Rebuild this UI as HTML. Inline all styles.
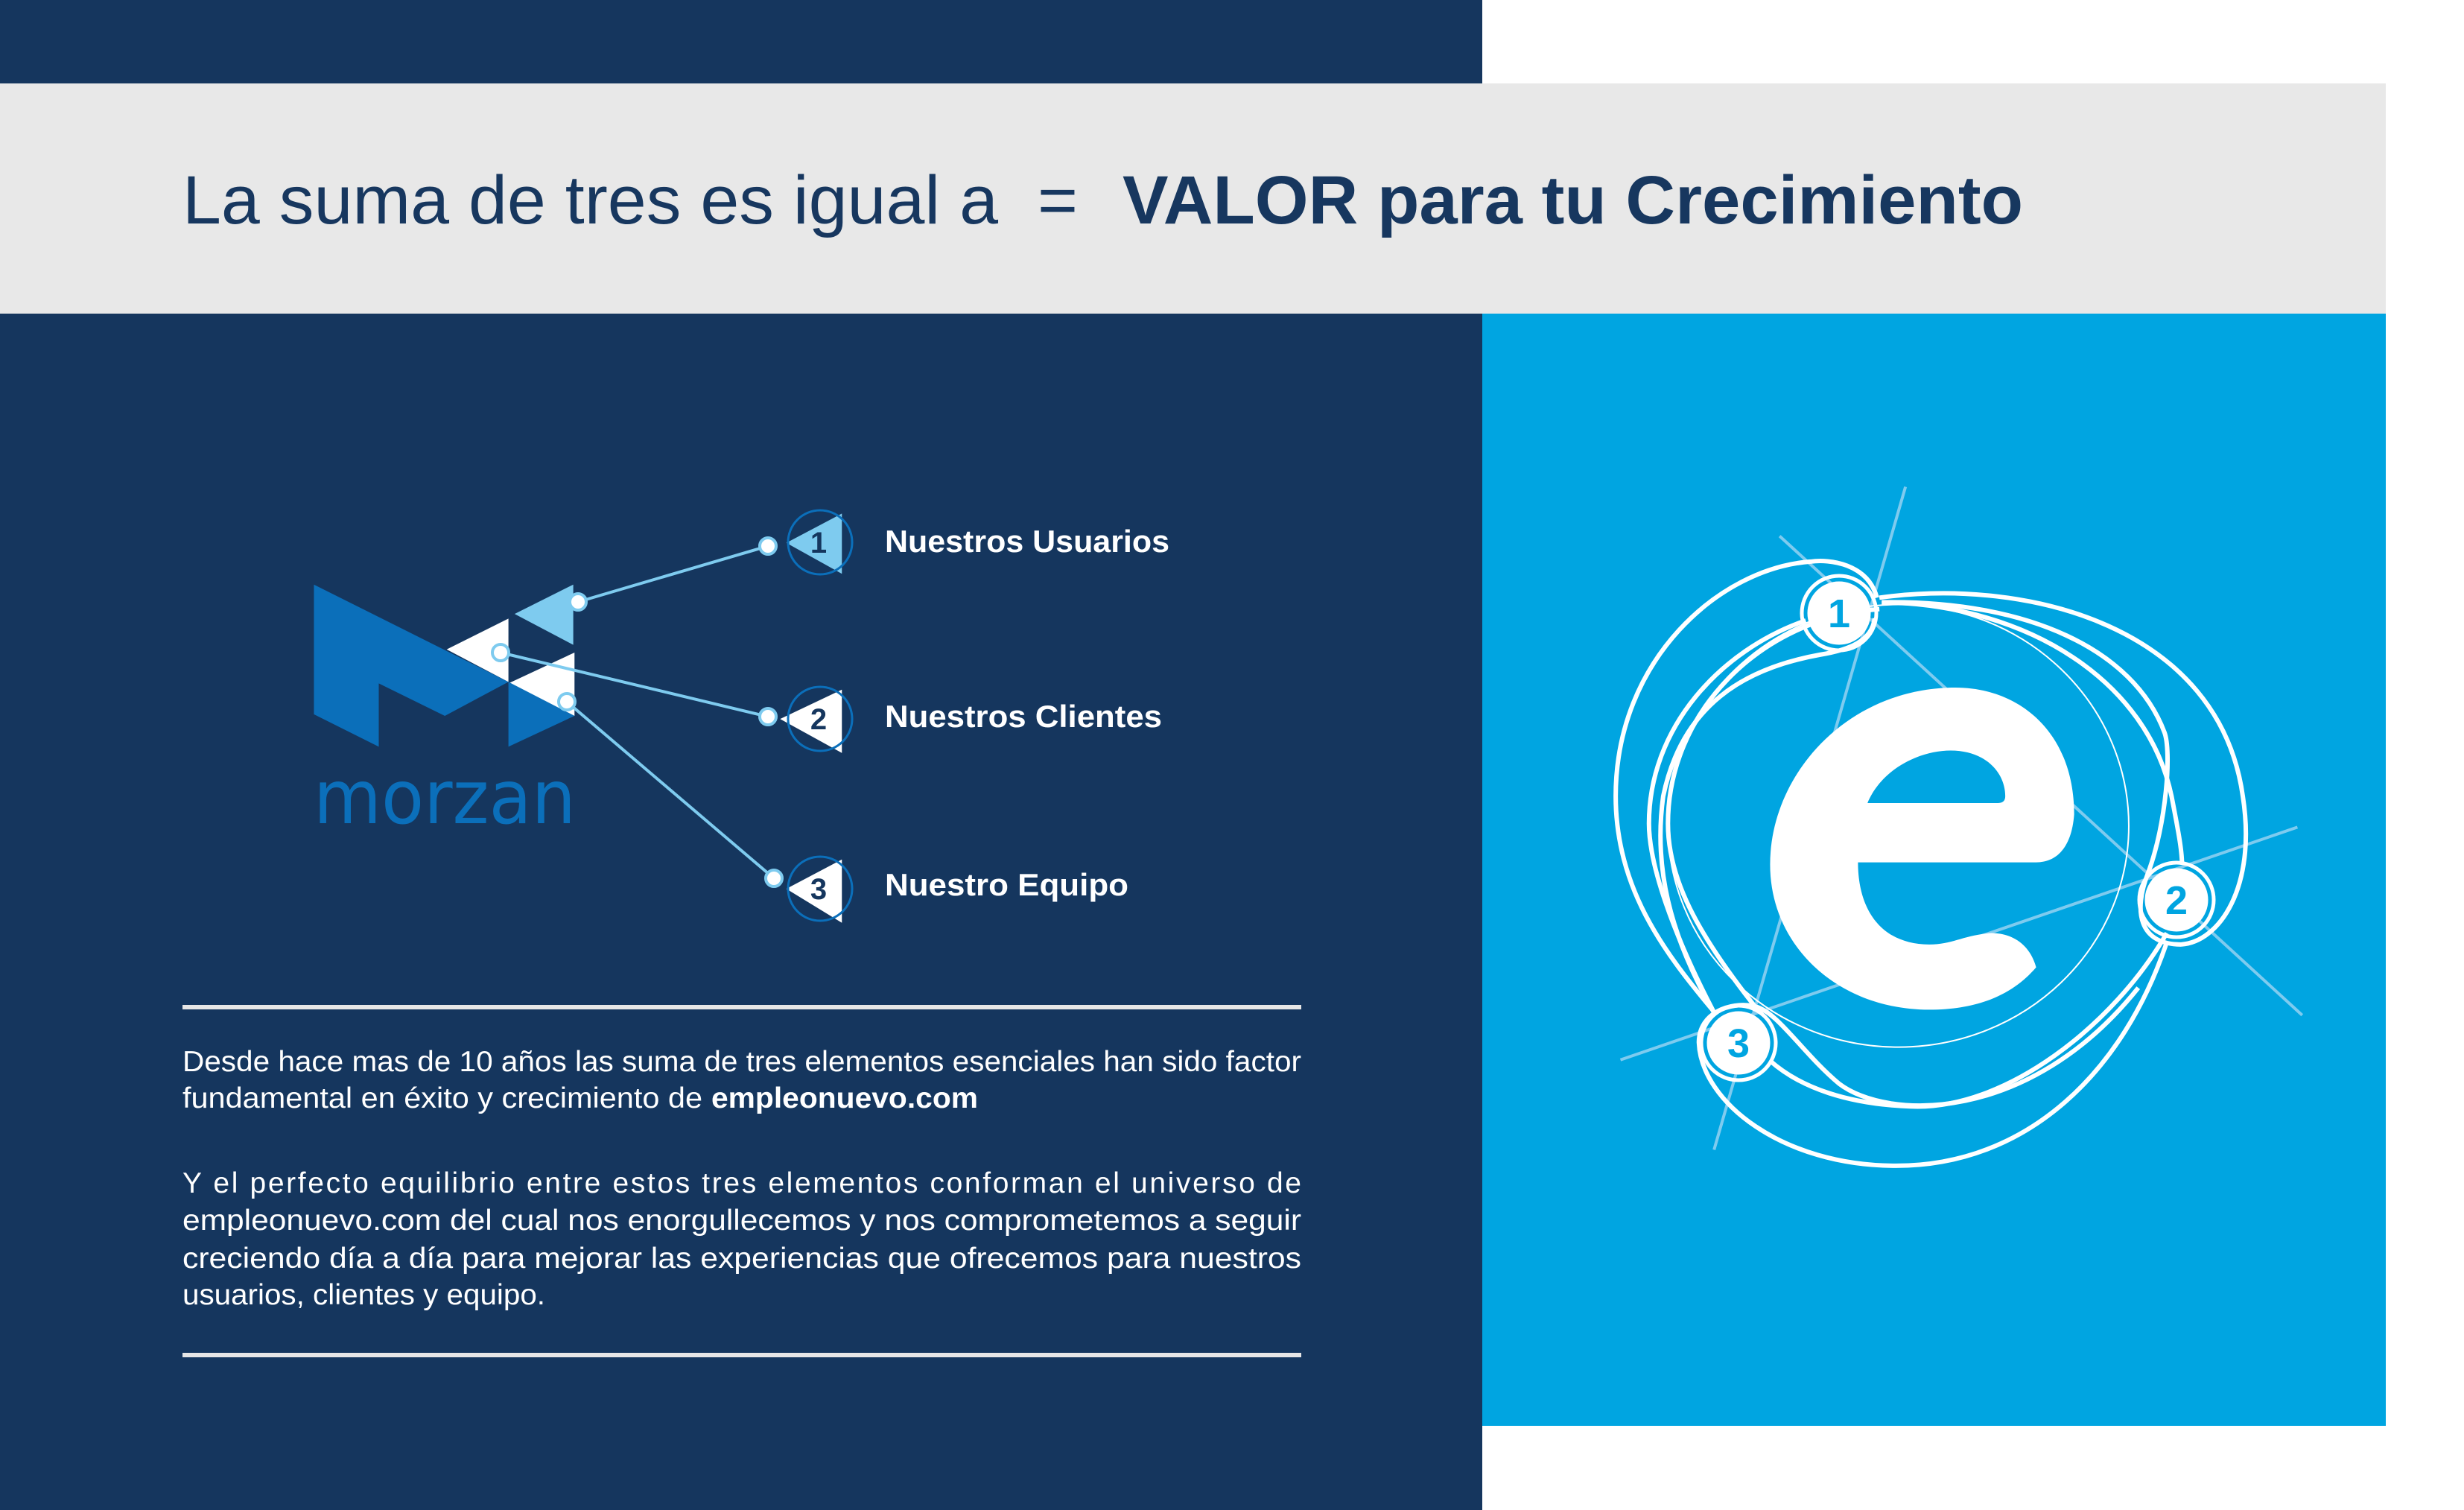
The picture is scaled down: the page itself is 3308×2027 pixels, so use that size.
<!DOCTYPE html>
<html><head><meta charset="utf-8"><style>
html,body{margin:0;padding:0;background:#fff}
svg{display:block}
</style></head><body>
<svg width="3308" height="2027" viewBox="0 0 3308 2027" xmlns="http://www.w3.org/2000/svg">
<rect x="0" y="0" width="3308" height="2027" fill="#ffffff"/>
<rect x="0" y="0" width="1990" height="2027" fill="#15365e"/>
<rect x="0" y="112" width="3203" height="309" fill="#e8e8e8"/>
<rect x="1990" y="421" width="1213" height="1493" fill="#00a5e1"/>

<!-- title -->
<text x="245" y="300" font-family="Liberation Sans, sans-serif" font-size="92" fill="#17375f" textLength="1095" lengthAdjust="spacingAndGlyphs">La suma de tres es igual a</text>
<text x="1393" y="300" font-family="Liberation Sans, sans-serif" font-size="92" fill="#17375f" textLength="54" lengthAdjust="spacingAndGlyphs">=</text>
<text x="1507" y="300" font-family="Liberation Sans, sans-serif" font-weight="bold" font-size="92" fill="#17375f" textLength="1209" lengthAdjust="spacingAndGlyphs">VALOR para tu Crecimiento</text>

<!-- morzan logo (zoom coords) -->
<g transform="translate(380,650) scale(0.829,0.4146)">
  <polygon points="50,325 365,640 262,750 155,645 155,850 50,745" fill="#0b6fba"/>
  <polygon points="265,535 365,435 365,640" fill="#ffffff"/>
  <polygon points="365,645 472,545 472,750" fill="#ffffff"/>
  <polygon points="365,640 472,750 365,850" fill="#0b6fba"/>
  <polygon points="375,420 470,325 470,520" fill="#7ecbef"/>
  <polygon points="815,190 905,95 905,290" fill="#7ecbef"/>
  <polygon points="805,760 905,665 905,870" fill="#ffffff"/>
  <polygon points="815,1310 905,1215 905,1420" fill="#ffffff"/>
</g>
<g fill="none" stroke="#0b6fba" stroke-width="3">
  <circle cx="1101" cy="728" r="43"/>
  <circle cx="1101" cy="965" r="43"/>
  <circle cx="1101" cy="1193" r="43"/>
</g>
<g stroke="#7ecbef" stroke-width="4">
  <line x1="776" y1="808" x2="1031" y2="733"/>
  <line x1="672" y1="876" x2="1031" y2="962"/>
  <line x1="761" y1="942" x2="1039" y2="1179"/>
</g>
<g fill="#ffffff" stroke="#7ecbef" stroke-width="4">
  <circle cx="776" cy="808" r="11"/>
  <circle cx="672" cy="876" r="11"/>
  <circle cx="761" cy="942" r="11"/>
  <circle cx="1031" cy="733" r="11"/>
  <circle cx="1031" cy="962" r="11"/>
  <circle cx="1039" cy="1179" r="11"/>
</g>
<g font-family="Liberation Sans, sans-serif" font-weight="bold" font-size="40" fill="#15365e" text-anchor="middle">
  <text x="1099" y="742">1</text>
  <text x="1099" y="979">2</text>
  <text x="1099" y="1207">3</text>
</g>
<text x="421" y="1105" font-family="DejaVu Sans, sans-serif" font-size="100" fill="#0b6fba" textLength="352" lengthAdjust="spacingAndGlyphs">morzan</text>
<g font-family="Liberation Sans, sans-serif" font-weight="bold" font-size="42" fill="#ffffff">
  <text x="1188" y="741" textLength="382" lengthAdjust="spacingAndGlyphs">Nuestros Usuarios</text>
  <text x="1188" y="976" textLength="372" lengthAdjust="spacingAndGlyphs">Nuestros Clientes</text>
  <text x="1188" y="1202" textLength="327" lengthAdjust="spacingAndGlyphs">Nuestro Equipo</text>
</g>

<!-- rules + paragraphs -->
<rect x="245" y="1349" width="1502" height="6" fill="#e6e6e6"/>
<rect x="245" y="1816" width="1502" height="6" fill="#e6e6e6"/>
<g font-family="Liberation Sans, sans-serif" font-size="39" fill="#ffffff">
  <text x="245" y="1438" textLength="1502" lengthAdjust="spacingAndGlyphs">Desde hace mas de 10 años las suma de tres elementos esenciales han sido factor</text>
  <text x="245" y="1487" textLength="698" lengthAdjust="spacingAndGlyphs">fundamental en éxito y crecimiento de</text>
  <text x="955" y="1487" font-weight="bold" textLength="358" lengthAdjust="spacingAndGlyphs">empleonuevo.com</text>
  <text x="245" y="1601" textLength="1502" lengthAdjust="spacing">Y el perfecto equilibrio entre estos tres elementos conforman el universo de</text>
  <text x="245" y="1651" textLength="1502" lengthAdjust="spacingAndGlyphs">empleonuevo.com del cual nos enorgullecemos y nos comprometemos a seguir</text>
  <text x="245" y="1702" textLength="1502" lengthAdjust="spacingAndGlyphs">creciendo día a día para mejorar las experiencias que ofrecemos para nuestros</text>
  <text x="245" y="1751" textLength="487" lengthAdjust="spacingAndGlyphs">usuarios, clientes y equipo.</text>
</g>

<!-- e graphic (zoom coords) -->
<g transform="translate(2150,640) scale(0.6378,0.6125)">
  <g stroke="#7ecbef" stroke-width="4" fill="none">
    <line x1="640" y1="22" x2="237" y2="1475" vector-effect="non-scaling-stroke"/>
    <line x1="375" y1="130" x2="1475" y2="1180" vector-effect="non-scaling-stroke"/>
    <line x1="40" y1="1278" x2="1465" y2="768" vector-effect="non-scaling-stroke"/>
  </g>
  <path fill="#ffffff" fill-rule="evenodd" d="M995,740 C995,560 880,462 745,462 C520,462 355,650 355,850 C355,1030 500,1168 690,1168 C800,1168 870,1130 915,1075 C900,1020 860,1000 820,1000 C760,1005 740,1025 690,1025 C590,1025 540,950 540,845 L915,845 C960,845 990,810 995,740 Z M560,715 C590,640 670,600 735,600 C810,600 850,650 850,700 C850,710 845,715 835,715 Z"/>
  <circle cx="625" cy="765" r="485" fill="none" stroke="#ffffff" stroke-width="2" vector-effect="non-scaling-stroke"/>
  <g fill="none" stroke="#ffffff" stroke-width="6">
    <path vector-effect="non-scaling-stroke" d="M580,265 C560,190 480,180 440,186 C250,200 30,400 30,700 C30,900 130,1040 235,1170"/>
    <path vector-effect="non-scaling-stroke" d="M585,265 C900,220 1300,330 1350,700 C1380,900 1300,1020 1220,1025 C1130,1025 1120,950 1150,870 C1190,760 1200,600 1185,560 C1120,380 900,270 590,275"/>
    <path vector-effect="non-scaling-stroke" d="M590,275 C900,280 1150,450 1200,700 C1215,780 1222,820 1222,850"/>
    <path vector-effect="non-scaling-stroke" d="M1190,1000 C1080,1200 850,1390 650,1380 C520,1375 420,1340 355,1280"/>
    <path vector-effect="non-scaling-stroke" d="M1190,1020 C1100,1300 900,1510 620,1510 C380,1510 210,1370 205,1240 C205,1175 270,1150 320,1160 C370,1170 420,1260 500,1330 C600,1410 900,1420 1130,1120"/>
    <path vector-effect="non-scaling-stroke" d="M235,1170 C150,1000 100,850 100,760 C100,550 250,380 430,315"/>
    <path vector-effect="non-scaling-stroke" d="M240,1180 C140,1000 110,850 130,700 C170,500 300,420 460,390 C520,380 570,360 575,310"/>
    <path vector-effect="non-scaling-stroke" d="M330,1170 C200,1000 140,880 140,760 C140,520 330,310 585,290"/>
  </g>
</g>
<g fill="#ffffff" stroke="#ffffff" stroke-width="5">
  <circle cx="2469" cy="823" r="40"/>
  <circle cx="2922" cy="1208" r="40"/>
  <circle cx="2334" cy="1400" r="40"/>
</g>
<g fill="none" stroke="#ffffff" stroke-width="5">
  <circle cx="2469" cy="823" r="50"/>
  <circle cx="2922" cy="1208" r="50"/>
  <circle cx="2334" cy="1400" r="50"/>
</g>
<g font-family="Liberation Sans, sans-serif" font-weight="bold" font-size="54" fill="#00a5e1" text-anchor="middle">
  <text x="2469" y="842">1</text>
  <text x="2922" y="1227">2</text>
  <text x="2334" y="1419">3</text>
</g>
</svg>
</body></html>
